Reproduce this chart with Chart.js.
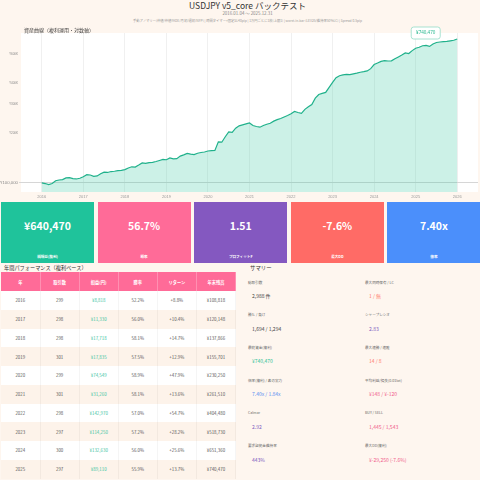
<!DOCTYPE html>
<html>
<head>
<meta charset="utf-8">
<script src="https://cdn.jsdelivr.net/npm/chart.js@4.4.1/dist/chart.umd.min.js"></script>
<style>
  body { margin:0; width:480px; height:480px; background:#fef6ef; position:relative; overflow:hidden;
         font-family:"Noto Sans CJK JP","Noto Sans",sans-serif; color:#444; }
  .abs { position:absolute; white-space:nowrap; }
  .center { transform:translateX(-50%); }
  #chartBox { position:absolute; left:0; top:22px; width:480px; height:180px; }
  .card { position:absolute; top:202px; width:93px; height:61px; color:#fff; text-align:center; }
  .card .v { position:absolute; left:0; right:0; top:16px; font-size:10.5px; font-weight:bold; }
  .card .l { position:absolute; left:0; right:0; top:52px; font-size:3.6px; font-weight:bold; }
  table { position:absolute; left:1px; top:272px; width:235px; border-collapse:collapse; table-layout:fixed; }
  th { background:#ff6b98; color:#fff; font-size:4.2px; font-weight:bold; height:19px; padding:0;
       border-right:1px solid rgba(255,255,255,0.25); }
  td { font-size:4.4px; height:18.75px; padding:0; text-align:center; color:#555;
       border-right:1px solid rgba(0,0,0,0.04); }
  tr.odd td { background:#ffffff; }
  tr.even td { background:#fdf3ea; }
  td.pnl { color:#3cc3a0; }
  .slab { font-size:3.6px; color:#666; }
  .sval { font-size:5px; }
</style>
</head>
<body>
<div class="abs center" style="left:247.5px;top:-1px;font-size:8.5px;color:#333;">USDJPY v5_core バックテスト</div>
<div class="abs center" style="left:247.5px;top:10px;font-size:4.4px;color:#888;">2016.01.04 ～ 2025.12.31</div>
<div class="abs center" style="left:247.5px;top:18px;font-size:3.3px;color:#999;">手動アノマリー(仲値/仲値FADE/月初/週初/NFP) | 時間タイマー+固定SL40pip | 1万円ごとに1枚(上限1) | worst-in-bar (LEV25/維持率50%LC) | Spread 0.5pip</div>
<div id="chartBox"><canvas id="eq" width="480" height="180"></canvas></div>
<div class="abs" style="left:24px;top:26px;font-size:5px;color:#444;z-index:2;">資産曲線（複利運用・対数軸）</div>

<div id="cards"></div>

<div class="abs" style="left:4px;top:264px;font-size:5.2px;color:#333;">年間パフォーマンス（複利ベース）</div>
<table id="perf"></table>

<div class="abs" style="left:250px;top:264px;font-size:5.4px;color:#333;">サマリー</div>
<div id="summary"></div>

<script>
// equity curve, month-end balance (yen) from 2016-01 start
const equity = [
  100000, 99000, 97500, 99000, 103000, 104000, 104500, 107000, 107500, 106000, 105500, 106500,
  108818, 112000, 111500, 109500, 110000, 113500, 116000, 115500, 117000, 117500, 118500, 119000,
  120148, 123000, 125000, 124500, 128000, 132000, 131000, 132500, 133000, 134500, 136500, 138500,
  137866, 141500, 139500, 140000, 145000, 147500, 150500, 149000, 148000, 151000, 152500, 153500,
  155701, 156500, 157000, 177000, 176000, 190000, 203000, 202000, 214000, 221000, 224000, 227000,
  230250, 222000, 219000, 217000, 222000, 226000, 229000, 236000, 241000, 245000, 250000, 255000,
  261510, 270000, 266000, 263000, 278000, 288000, 297000, 325000, 342000, 347000, 352000, 378000,
  404480, 432000, 444000, 449000, 452000, 451000, 456000, 460000, 466000, 470000, 475000, 490000,
  518730, 530000, 542000, 548000, 545000, 546000, 562000, 577000, 592000, 610000, 605000, 630000,
  651360, 660000, 674000, 677000, 668000, 690000, 705000, 710000, 714000, 716000, 722000, 728000,
  740470
];
const startYear = 2016;
const xTicks = [2016, 2017, 2018, 2019, 2020, 2021, 2022, 2023, 2024, 2025, 2026];
const yTicks = [100000, 200000, 300000, 400000, 600000];

// KPI cards
const cardValues = ['¥640,470', '56.7%', '1.51', '-7.6%', '7.40x'];
const cardLabels = ['純損益(複利)', '勝率', 'プロフィットF', '最大DD', '倍率'];
const cardColors = ['#1fc39b', '#ff6b98', '#8458c0', '#ff6b66', '#4b8ffb'];

// yearly table
const tableHead = ['年', '取引数', '損益(円)', '勝率', 'リターン', '年末残高'];
const years = [2016, 2017, 2018, 2019, 2020, 2021, 2022, 2023, 2024, 2025];
const trades = [299, 298, 298, 301, 299, 301, 298, 297, 300, 297];
const profits = [8818, 11330, 17718, 17835, 74549, 31260, 142970, 114250, 132630, 89110];
const winRates = [52.2, 56.0, 58.1, 57.5, 58.9, 58.1, 57.0, 57.2, 56.0, 55.9];
const returns = [8.8, 10.4, 14.7, 12.9, 47.9, 13.6, 54.7, 28.2, 25.6, 13.7];
const balances = [108818, 120148, 137866, 155701, 230250, 261510, 404480, 518730, 651360, 740470];

// summary
const summaryLabels = ['総取引数', '最大同時保有 / LC', '勝ち / 負け', 'シャープレシオ', '最終資金(複利)', '最大連勝 / 連敗',
  '倍率(複利) / 素の実力', '平均利益/損失(0.01lot)', 'Calmar', 'BUY / SELL', '要求証拠金維持率', '最大DD(複利)'];
const summaryValues = ['2,988 件', '1 / 無', '1,694 / 1,294', '2.83', '¥740,470', '14 / 8',
  '7.40x / 1.84x', '¥148 / ¥-120', '2.92', '1,445 / 1,543', '443%', '¥-29,250 (-7.6%)'];
const summaryColors = ['#444', '#ff7a6b', '#444', '#7d5cc0', '#2bbf95', '#ff7a6b',
  '#5b8def', '#f0608a', '#7d5cc0', '#f0608a', '#7d5cc0', '#f0608a'];

const yen = v => '¥' + v.toLocaleString('en-US');

// cards
let cardsHtml = '';
for (let i = 0; i < cardValues.length; i++) {
  cardsHtml += '<div class="card" style="left:' + (1 + i * 96.6) + 'px;background:' + cardColors[i] + '">' +
    '<div class="v">' + cardValues[i] + '</div><div class="l">' + cardLabels[i] + '</div></div>';
}
document.getElementById('cards').innerHTML = cardsHtml;

// table
let t = '<tr>' + tableHead.map(h => '<th>' + h + '</th>').join('') + '</tr>';
for (let i = 0; i < years.length; i++) {
  t += '<tr class="' + (i % 2 === 0 ? 'odd' : 'even') + '">' +
    '<td>' + years[i] + '</td>' +
    '<td>' + trades[i] + '</td>' +
    '<td class="pnl">' + yen(profits[i]) + '</td>' +
    '<td>' + winRates[i].toFixed(1) + '%</td>' +
    '<td>+' + returns[i].toFixed(1) + '%</td>' +
    '<td>' + yen(balances[i]) + '</td></tr>';
}
document.getElementById('perf').innerHTML = t;

// summary
let s = '';
for (let i = 0; i < summaryLabels.length; i++) {
  const col = i % 2, row = Math.floor(i / 2);
  const lx = col === 0 ? 248 : 365;
  const top = 279.5 + row * 32.7;
  s += '<div class="abs slab" style="left:' + lx + 'px;top:' + top + 'px">' + summaryLabels[i] + '</div>';
  s += '<div class="abs sval" style="left:' + (lx + 4) + 'px;top:' + (top + 12.5) + 'px;color:' + summaryColors[i] + '">' + summaryValues[i] + '</div>';
}
document.getElementById('summary').innerHTML = s;

// chart
const whiteArea = {
  id: 'whiteArea',
  beforeDraw(chart) {
    const a = chart.chartArea, c = chart.ctx;
    c.save();
    c.fillStyle = '#ffffff';
    c.fillRect(a.left, a.top, a.right - a.left, a.bottom - a.top);
    c.restore();
  }
};
const lastLabel = {
  id: 'lastLabel',
  afterDatasetsDraw(chart) {
    const meta = chart.getDatasetMeta(0);
    const p = meta.data[meta.data.length - 1];
    const c = chart.ctx;
    const w = 29, h = 12;
    const x0 = p.x - 46, y0 = p.y - 12;
    c.save();
    c.beginPath();
    c.roundRect(x0, y0, w, h, 2.5);
    c.fillStyle = '#ffffff';
    c.fill();
    c.strokeStyle = '#93dcc6';
    c.lineWidth = 0.8;
    c.stroke();
    c.fillStyle = '#2bb890';
    c.font = '4.5px "Noto Sans", sans-serif';
    c.textAlign = 'center';
    c.textBaseline = 'middle';
    c.fillText(yen(equity[equity.length - 1]), x0 + w / 2, y0 + h / 2);
    c.restore();
  }
};

new Chart(document.getElementById('eq').getContext('2d'), {
  type: 'line',
  data: {
    datasets: [{
      data: equity.map((v, i) => ({ x: startYear + i / 12, y: v })),
      borderColor: '#20b18b',
      borderWidth: 1.2,
      backgroundColor: 'rgba(50,200,160,0.25)',
      fill: 'start',
      pointRadius: 0,
      tension: 0
    }]
  },
  options: {
    responsive: false,
    animation: false,
    layout: { padding: { top: 11, right: 2, left: 0, bottom: 0 } },
    plugins: { legend: { display: false }, tooltip: { enabled: false } },
    scales: {
      x: {
        type: 'linear',
        min: 2015.5,
        max: 2026.5,
        afterBuildTicks: sc => { sc.ticks = xTicks.map(v => ({ value: v })); },
        afterFit: sc => { sc.height = 10; },
        border: { display: false },
        grid: { color: '#f0f0f0', drawTicks: false },
        ticks: { font: { size: 4 }, color: '#999', padding: 2, maxRotation: 0, autoSkip: false, callback: v => String(v) }
      },
      y: {
        type: 'logarithmic',
        min: 88000,
        max: 805000,
        afterBuildTicks: sc => { sc.ticks = yTicks.map(v => ({ value: v })); },
        afterFit: sc => { sc.width = 21; },
        border: { display: false },
        grid: {
          color: c => (c.tick && c.tick.value === 100000) ? '#d6d6d6' : 'rgba(0,0,0,0)',
          tickLength: 2
        },
        ticks: {
          autoSkip: false,
          padding: 1,
          color: '#888',
          font: c => ({ size: (c.tick && c.tick.value === 100000) ? 4.3 : 3 }),
          callback: v => v === 100000 ? yen(v) : '¥' + (v / 1000) + 'K'
        }
      }
    }
  },
  plugins: [whiteArea, lastLabel]
});
</script>
</body>
</html>
